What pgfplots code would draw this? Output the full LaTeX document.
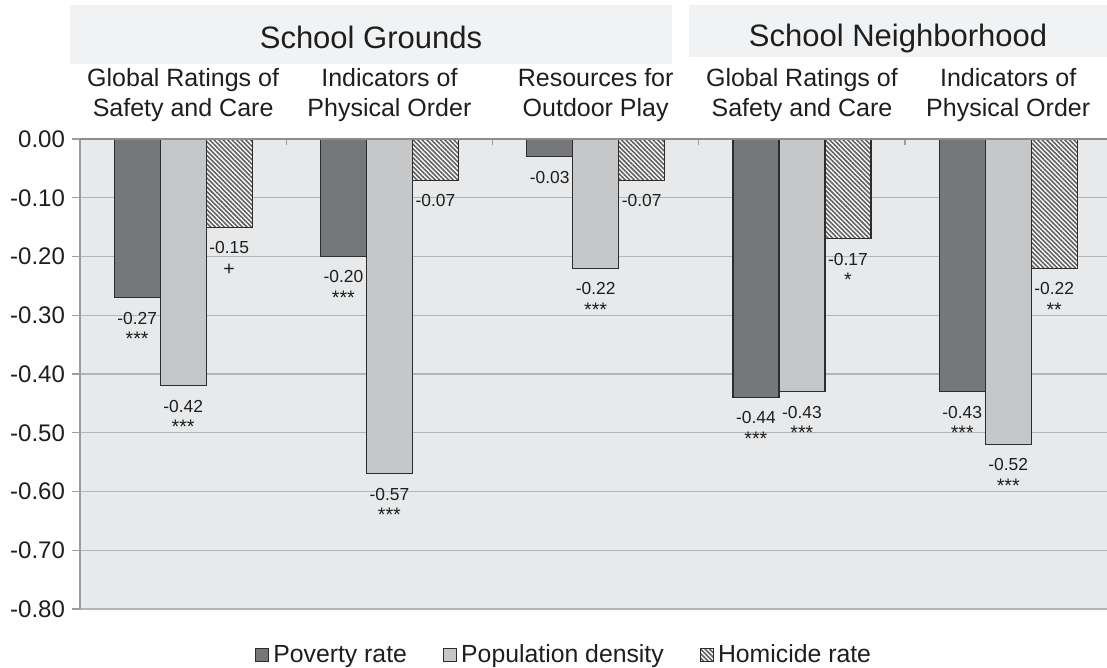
\documentclass[border=0pt]{standalone}
\usepackage{pgfplots}
\pgfplotsset{compat=1.18}
\usepackage{fontspec}
\setmainfont{Liberation Sans}
\usetikzlibrary{patterns.meta}
\definecolor{pov}{RGB}{118,119,123}
\definecolor{pop}{RGB}{198,199,201}
\definecolor{bg}{RGB}{232,233,234}
\definecolor{hdr}{RGB}{241,242,243}
\definecolor{grd}{RGB}{180,181,183}
\definecolor{axl}{RGB}{155,156,158}
\definecolor{txt}{RGB}{30,30,30}
\definecolor{edge}{RGB}{45,45,45}
\protected\def\lab#1#2{\begin{tabular}{@{}c@{}}#1\\\relax {\fontsize{9.8}{10}\selectfont\raisebox{-0.8pt}{#2}}\end{tabular}}
\begin{document}
\begin{tikzpicture}
\begin{axis}[
  at={(0,0)}, anchor=south west,
  scale only axis, width=513.5pt, height=235pt,
  xmin=-0.5, xmax=4.479, ymin=-0.8, ymax=0,
  enlargelimits=false, clip=false,
  ybar=0pt, bar width=23pt,
  axis line style={draw=none},
  axis background/.style={fill=bg},
  xtick=\empty,
  ytick={-0.8,-0.7,-0.6,-0.5,-0.4,-0.3,-0.2,-0.1,0},
  yticklabels={-0.80,-0.70,-0.60,-0.50,-0.40,-0.30,-0.20,-0.10,0.00},
  ytick pos=left, tick align=outside, major tick length=4pt,
  tick style={axl, line width=0.6pt},
  ymajorgrids, grid style={grd, line width=0.7pt},
  yticklabel style={font=\fontsize{12}{14}\selectfont, text=txt},
  point meta=explicit symbolic,
  nodes near coords,
  nodes near coords style={anchor=north, inner sep=0pt, yshift=-5.9pt,
    font=\fontsize{8.7}{10}\selectfont, text=txt},
  every axis plot/.append style={draw=edge, line width=0.6pt},
  legend style={at={(0.4723,-0.098)}, anchor=center, draw=none, fill=none,
    font=\fontsize{12.4}{14}\selectfont, text=txt,
    /tikz/every even column/.append style={column sep=16pt}},
  legend columns=3,
  legend image code/.code={\draw[#1, line width=0.5pt] (0pt,-3.3pt) rectangle (6.6pt,3.3pt);},
]
\addplot[fill=pov] coordinates {
  (0,-0.27) [{\lab{-0.27}{***}}]
  (1,-0.20) [{\lab{-0.20}{***}}]
  (2,-0.03) [{\lab{-0.03}{}}]
  (3,-0.44) [{\lab{-0.44}{***}}]
  (4,-0.43) [{\lab{-0.43}{***}}]
};
\addlegendentry{Poverty rate}
\addplot[fill=pop] coordinates {
  (0,-0.42) [{\lab{-0.42}{***}}]
  (1,-0.57) [{\lab{-0.57}{***}}]
  (2,-0.22) [{\lab{-0.22}{***}}]
  (3,-0.43) [{\lab{-0.43}{***}}]
  (4,-0.52) [{\lab{-0.52}{***}}]
};
\addlegendentry{Population density}
\addplot[preaction={fill=white}, pattern={Lines[angle=-45,distance=1.6pt,line width=0.8pt]}, pattern color=black!62] coordinates {
  (0,-0.15) [{\lab{-0.15}{+}}]
  (1,-0.07) [{\lab{-0.07}{}}]
  (2,-0.07) [{\lab{-0.07}{}}]
  (3,-0.17) [{\lab{-0.17}{*}}]
  (4,-0.22) [{\lab{-0.22}{**}}]
};
\addlegendentry{Homicide rate}
% axis lines and separators
\draw[axl, line width=0.7pt] (rel axis cs:0,0) -- (rel axis cs:0,1);
\draw[axl, line width=0.6pt] (axis cs:0.5,0) -- ([yshift=-3pt]axis cs:0.5,0);
\draw[axl, line width=0.6pt] (axis cs:1.5,0) -- ([yshift=-3pt]axis cs:1.5,0);
\draw[axl, line width=0.6pt] (axis cs:2.5,0) -- ([yshift=-3pt]axis cs:2.5,0);
\draw[axl, line width=0.6pt] (axis cs:3.5,0) -- ([yshift=-3pt]axis cs:3.5,0);
\draw[axl!90!black, line width=1.4pt] (rel axis cs:0,1) -- (rel axis cs:1,1);
% header boxes
\fill[hdr] (axis cs:-0.5485,0.1277) rectangle (axis cs:2.370,0.228);
\fill[hdr] (axis cs:2.4527,0.1404) rectangle (axis cs:4.55,0.228);
\node[anchor=base, text=txt, font=\fontsize{15.5}{18}\selectfont] at (axis cs:0.9107,0.154) {School Grounds};
\node[anchor=base, text=txt, font=\fontsize{15.5}{18}\selectfont] at (axis cs:3.466,0.158) {School Neighborhood};
% category labels
\tikzset{cat/.style={anchor=base, text=txt, font=\fontsize{12.5}{14}\selectfont, inner sep=0pt}}
\node[cat] at (axis cs:0,0.090) {Global Ratings of};
\node[cat] at (axis cs:0,0.039) {Safety and Care};
\node[cat] at (axis cs:1,0.090) {Indicators of};
\node[cat] at (axis cs:1,0.039) {Physical Order};
\node[cat] at (axis cs:2,0.090) {Resources for};
\node[cat] at (axis cs:2,0.039) {Outdoor Play};
\node[cat] at (axis cs:3,0.090) {Global Ratings of};
\node[cat] at (axis cs:3,0.039) {Safety and Care};
\node[cat] at (axis cs:4,0.090) {Indicators of};
\node[cat] at (axis cs:4,0.039) {Physical Order};
\end{axis}
\pgfresetboundingbox
\path (-40pt,-29.5pt) rectangle (513.5pt,304.5pt);
\end{tikzpicture}
\end{document}
